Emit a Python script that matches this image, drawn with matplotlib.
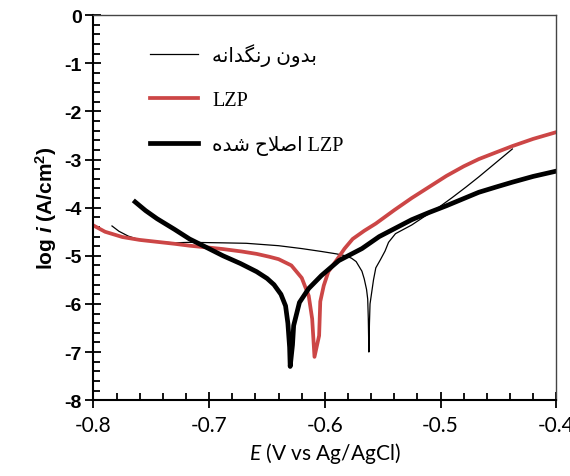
import matplotlib
matplotlib.use("Agg")
import matplotlib.pyplot as plt
from matplotlib.ticker import MultipleLocator, FuncFormatter
from matplotlib.font_manager import FontProperties

# Tafel curves
bare_E = [-0.784, -0.778, -0.770, -0.760, -0.745, -0.730, -0.717, -0.690, -0.668,
          -0.640, -0.620, -0.603, -0.590, -0.582, -0.577, -0.573, -0.568, -0.566,
          -0.564, -0.563, -0.5625, -0.562, -0.5615, -0.561, -0.5595, -0.558, -0.556,
          -0.552, -0.548, -0.545, -0.539, -0.532, -0.525, -0.515, -0.502, -0.490,
          -0.478, -0.467, -0.455, -0.445, -0.438]
bare_logi = [-4.38, -4.49, -4.59, -4.67, -4.71, -4.73, -4.72, -4.73, -4.74,
             -4.79, -4.85, -4.91, -4.96, -5.00, -5.05, -5.12, -5.32, -5.48,
             -5.70, -5.90, -6.30, -7.00, -6.40, -6.00, -5.75, -5.50, -5.25,
             -5.08, -4.90, -4.72, -4.54, -4.45, -4.36, -4.20, -4.00, -3.79,
             -3.57, -3.36, -3.12, -2.92, -2.78]

lzp_E = [-0.800, -0.790, -0.775, -0.760, -0.745, -0.730, -0.717, -0.700, -0.688,
         -0.672, -0.659, -0.648, -0.640, -0.629, -0.620, -0.614, -0.611, -0.609,
         -0.605, -0.604, -0.601, -0.597, -0.589, -0.583, -0.576, -0.566, -0.556,
         -0.540, -0.525, -0.510, -0.495, -0.480, -0.467, -0.452, -0.438, -0.420,
         -0.400]
lzp_logi = [-4.37, -4.50, -4.61, -4.67, -4.71, -4.75, -4.79, -4.83, -4.86,
            -4.91, -4.96, -5.02, -5.07, -5.20, -5.46, -5.83, -6.31, -7.10,
            -6.66, -5.95, -5.62, -5.33, -5.06, -4.85, -4.65, -4.48, -4.33,
            -4.05, -3.80, -3.57, -3.34, -3.14, -2.99, -2.85, -2.72, -2.57,
            -2.43]

mod_E = [-0.764, -0.755, -0.745, -0.730, -0.717, -0.702, -0.688, -0.673, -0.659,
         -0.650, -0.644, -0.638, -0.634, -0.632, -0.6305, -0.630, -0.628, -0.627,
         -0.622, -0.614, -0.603, -0.588, -0.568, -0.553, -0.537, -0.525, -0.510,
         -0.495, -0.480, -0.467, -0.452, -0.438, -0.420, -0.400]
mod_logi = [-3.88, -4.06, -4.23, -4.45, -4.65, -4.83, -5.00, -5.16, -5.33,
            -5.47, -5.60, -5.80, -6.04, -6.40, -6.90, -7.30, -6.85, -6.45,
            -5.97, -5.68, -5.41, -5.10, -4.85, -4.60, -4.40, -4.25, -4.10,
            -3.96, -3.81, -3.68, -3.57, -3.47, -3.35, -3.24]

# Persian labels written in visual order with presentation forms
labels = [
    "\uFEEA\uFEE7\uFE8D\uFEAA\uFB95\uFEE7\uFEAD \uFEE5\uFEED\uFEAA\uFE91",
    "LZP",
    "\uFEE9\uFEAA\uFEB7 \uFEA1\uFEFC\uFEBB\uFE8D LZP",
]

plt.rcParams["mathtext.fontset"] = "custom"
plt.rcParams["mathtext.rm"] = "Liberation Sans:bold"
plt.rcParams["mathtext.bf"] = "Liberation Sans:bold"
plt.rcParams["mathtext.it"] = "Lato:italic"
plt.rcParams["mathtext.bfit"] = "Liberation Sans:bold:italic"

fig = plt.figure(figsize=(5.70, 4.77), dpi=100)
ax = fig.add_axes([0.164, 0.159, 0.812, 0.807])

l1, = ax.plot(bare_E, bare_logi, color="black", lw=0.9)
l2, = ax.plot(lzp_E, lzp_logi, color="#cc4646", lw=2.7)
l3, = ax.plot(mod_E, mod_logi, color="black", lw=3.4)

ax.set_xlim(-0.8, -0.4)
ax.set_ylim(-8, 0)
ax.xaxis.set_major_locator(MultipleLocator(0.1))
ax.xaxis.set_minor_locator(MultipleLocator(0.02))
ax.yaxis.set_major_locator(MultipleLocator(1))
ax.yaxis.set_minor_locator(MultipleLocator(0.2))
ax.xaxis.set_major_formatter(FuncFormatter(lambda v, p: f"{v:.1f}"))
ax.yaxis.set_major_formatter(FuncFormatter(lambda v, p: f"{v:.0f}"))

ax.tick_params(axis="x", which="major", direction="inout", length=12, width=1.3,
               pad=5, labelsize=15)
ax.tick_params(axis="x", which="minor", direction="in", length=5, width=1.3)
ax.tick_params(axis="y", which="major", direction="inout", length=11, width=1.3,
               pad=3, labelsize=14)
ax.tick_params(axis="y", which="minor", direction="in", length=5, width=1.3)
for t in ax.get_xticklabels():
    t.set_family("Lato")
for t in ax.get_yticklabels():
    t.set_family("Liberation Sans")
    t.set_weight("bold")

for s in ("left", "bottom"):
    ax.spines[s].set_linewidth(1.5)
    ax.spines[s].set_color("black")
for s in ("top", "right"):
    ax.spines[s].set_linewidth(1.0)
    ax.spines[s].set_color("#444444")

ax.set_ylabel(r"log $\mathbfit{i}$ (A/cm$^{\mathbf{2}}$)", family="Liberation Sans",
              weight="bold", fontsize=15, labelpad=4)
ax.set_xlabel(r"$\mathit{E}$ (V vs Ag/AgCl)", family="Lato", fontsize=15, labelpad=3)

leg = ax.legend([l1, l2, l3], labels, loc="upper left", bbox_to_anchor=(0.083, 0.975),
                frameon=False, handlelength=2.4, handletextpad=0.7, labelspacing=1.25,
                prop=FontProperties(family=["Liberation Serif", "DejaVu Sans"], size=14.5))

fig.savefig("out.png", dpi=100)
